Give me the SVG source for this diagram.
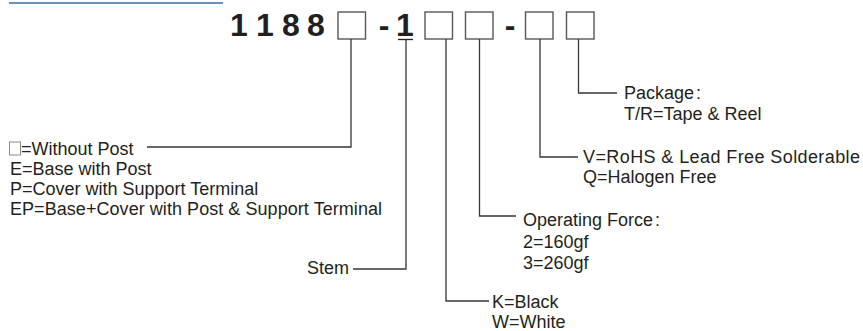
<svg xmlns="http://www.w3.org/2000/svg" width="863" height="331" viewBox="0 0 863 331">
<style>
.t{font-family:"Liberation Sans",Arial,sans-serif;font-size:18px;fill:#231f20}
.big{font-family:"Liberation Sans",Arial,sans-serif;font-size:32px;font-weight:bold;fill:#231f20}
.box{fill:#fff;stroke:#5a5656;stroke-width:1.4}
.c{fill:none;stroke:#3b3535;stroke-width:1.3}
</style>
<rect width="863" height="331" fill="#fff"/>
<line x1="9" y1="3" x2="223" y2="3" stroke="#6a93bb" stroke-width="2"/>
<g id="code">
<text class="big" x="230" y="36">1</text>
<text class="big" x="256" y="36">1</text>
<text class="big" x="282" y="36">8</text>
<text class="big" x="307" y="36">8</text>
<text class="big" x="384" y="36" text-anchor="middle">-</text>
<text class="big" x="405" y="36" text-anchor="middle">1</text>
<line x1="398" y1="39.5" x2="413" y2="39.5" stroke="#231f20" stroke-width="1.3"/>
<text class="big" x="510" y="36" text-anchor="middle">-</text>
</g>
<g id="box1"><rect class="box" x="338" y="12" width="27.5" height="27"/></g>
<g id="box2"><rect class="box" x="425" y="12" width="27.5" height="27"/></g>
<g id="box3"><rect class="box" x="465.5" y="12" width="27.5" height="27"/></g>
<g id="box4"><rect class="box" x="525.5" y="12" width="27.5" height="27"/></g>
<g id="box5"><rect class="box" x="566.5" y="12" width="27.5" height="27"/></g>
<g id="connectors">
<polyline class="c" points="351,39 351,147 147,147"/>
<polyline class="c" points="406,40 406,269 353,269"/>
<polyline class="c" points="446,39 446,301 489,301"/>
<polyline class="c" points="479.5,39 479.5,216 516,216"/>
<polyline class="c" points="540,39 540,157 578,157"/>
<polyline class="c" points="578.5,39 578.5,93 617,93"/>
</g>
<g id="label-post">
<rect x="9.5" y="142" width="11" height="13" fill="#fff" stroke="#8a8a8a" stroke-width="1"/>
<text class="t" x="21" y="155">=Without Post</text>
<text class="t" x="10" y="175">E=Base with Post</text>
<text class="t" x="10" y="195">P=Cover with Support Terminal</text>
<text class="t" x="10" y="215" textLength="372" lengthAdjust="spacing">EP=Base+Cover with Post &amp; Support Terminal</text>
</g>
<g id="label-stem"><text class="t" x="349" y="274" text-anchor="end">Stem</text></g>
<g id="label-color">
<text class="t" x="492" y="308">K=Black</text>
<text class="t" x="492" y="328">W=White</text>
</g>
<g id="label-force">
<text class="t" x="523" y="226">Operating Force<tspan dx="2">:</tspan></text>
<text class="t" x="523" y="248">2=160gf</text>
<text class="t" x="523" y="269">3=260gf</text>
</g>
<g id="label-rohs">
<text class="t" x="583" y="163" textLength="277" lengthAdjust="spacing">V=RoHS &amp; Lead Free Solderable</text>
<text class="t" x="583" y="183">Q=Halogen Free</text>
</g>
<g id="label-package">
<text class="t" x="624" y="99">Package<tspan dx="2">:</tspan></text>
<text class="t" x="624" y="120">T/R=Tape &amp; Reel</text>
</g>
</svg>
